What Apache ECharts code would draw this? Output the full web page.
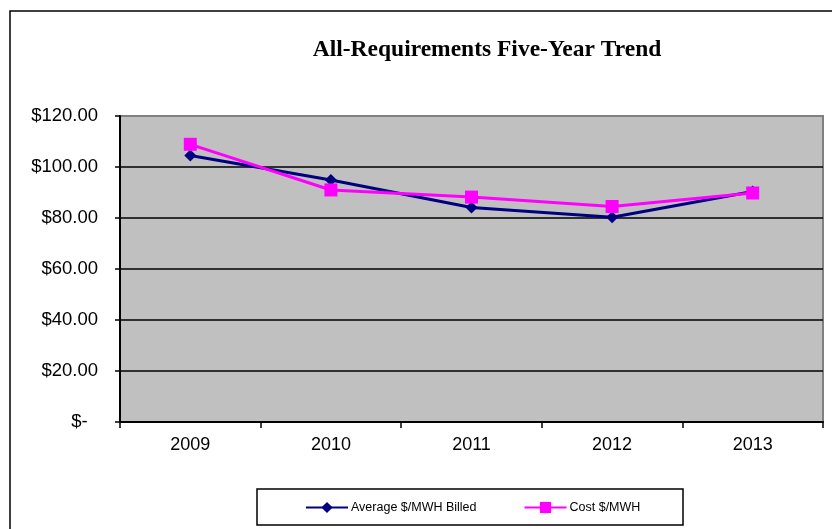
<!DOCTYPE html>
<html>
<head>
<meta charset="utf-8">
<script src="https://cdn.jsdelivr.net/npm/echarts@6/dist/echarts.min.js"></script>
<style>
  html, body { margin: 0; padding: 0; background: #fff; }
  #chart { width: 832px; height: 529px; }
</style>
</head>
<body>
<div id="chart"></div>
<script>
// Five-year trend of all-requirements pricing ($ per MWh)
const years = ['2009', '2010', '2011', '2012', '2013'];
const avgBilled = [104.5, 94.9, 84.1, 80.3, 90.4];
const costPerMwh = [108.9, 91.0, 88.2, 84.5, 89.8];
const yTicks = [0, 20, 40, 60, 80, 100, 120];

const chart = echarts.init(document.getElementById('chart'), null, { renderer: 'canvas' });

const yLabel = v => (v === 0 ? '$-  ' : '$' + v.toFixed(2));

chart.setOption({
  animation: false,
  backgroundColor: '#ffffff',
  title: {
    text: 'All-Requirements Five-Year Trend',
    left: 482,
    textAlign: 'center',
    top: 33,
    textStyle: {
      fontFamily: '"Liberation Serif", "Times New Roman", serif',
      fontWeight: 'bold',
      fontSize: 23.5,
      color: '#000'
    }
  },
  graphic: [
    {
      type: 'rect',
      shape: { x: 10, y: 11, width: 900, height: 600 },
      style: { fill: 'none', stroke: '#000', lineWidth: 1.5 },
      silent: true
    },
    {
      type: 'rect',
      shape: { x: 257, y: 489, width: 426, height: 36 },
      style: { fill: 'none', stroke: '#000', lineWidth: 1.5 },
      silent: true
    }
  ],
  legend: {
    left: 305,
    top: 501,
    padding: 0,
    itemWidth: 42,
    itemHeight: 14,
    itemGap: 47,
    textStyle: {
      fontFamily: '"Liberation Sans", Arial, sans-serif',
      fontSize: 12.5,
      color: '#000',
      padding: [0, 0, 0, -2]
    },
    data: ['Average $/MWH Billed', 'Cost $/MWH']
  },
  grid: {
    left: 120,
    right: 9,
    top: 116,
    bottom: 107,
    show: true,
    backgroundColor: '#C0C0C0',
    borderColor: '#808080',
    borderWidth: 2
  },
  xAxis: {
    type: 'category',
    data: years,
    boundaryGap: true,
    axisLine: { lineStyle: { color: '#000', width: 2 } },
    axisTick: { show: true, length: 6, lineStyle: { color: '#000', width: 1.5 } },
    axisLabel: {
      margin: 14,
      fontFamily: '"Liberation Sans", Arial, sans-serif',
      fontSize: 18,
      color: '#000'
    }
  },
  yAxis: {
    type: 'value',
    min: yTicks[0],
    max: yTicks[yTicks.length - 1],
    interval: 20,
    axisLine: { show: true, lineStyle: { color: '#000', width: 2 } },
    axisTick: { show: true, length: 5, lineStyle: { color: '#000', width: 1.5 } },
    splitLine: {
      show: true,
      lineStyle: { color: ['#000', '#000', '#000', '#000', '#000', '#000', '#808080'], width: 1.5 }
    },
    axisLabel: {
      margin: 22,
      formatter: yLabel,
      fontFamily: '"Liberation Sans", Arial, sans-serif',
      fontSize: 18.5,
      color: '#000'
    }
  },
  series: [
    {
      name: 'Average $/MWH Billed',
      type: 'line',
      data: avgBilled,
      symbol: 'diamond',
      symbolSize: [12, 12],
      itemStyle: { color: '#000080' },
      lineStyle: { color: '#000080', width: 3 },
      z: 2
    },
    {
      name: 'Cost $/MWH',
      type: 'line',
      data: costPerMwh,
      symbol: 'rect',
      symbolSize: 13,
      itemStyle: { color: '#FF00FF' },
      lineStyle: { color: '#FF00FF', width: 3 },
      z: 3
    }
  ]
});
</script>
</body>
</html>
